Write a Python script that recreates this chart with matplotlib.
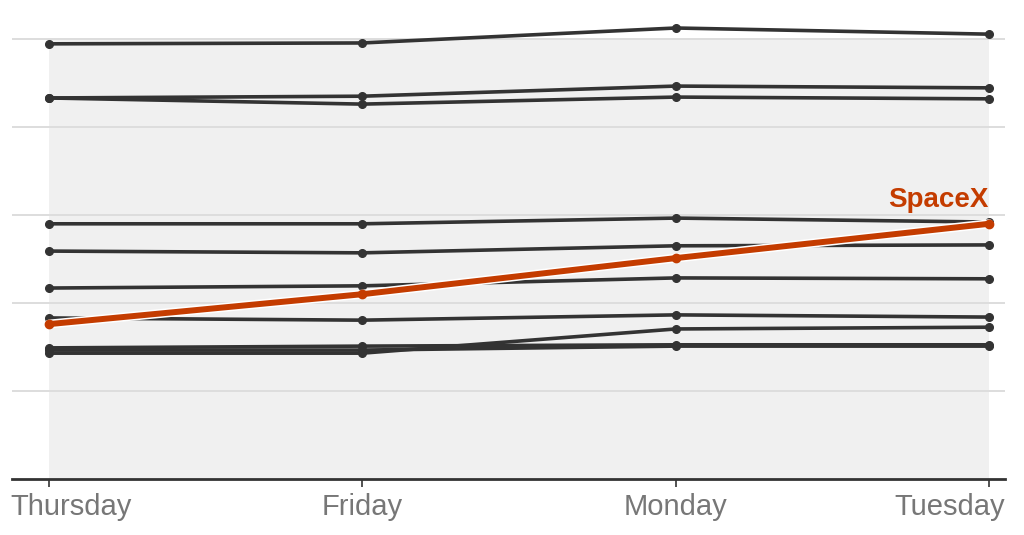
import matplotlib.pyplot as plt
import matplotlib.patheffects as pe
from matplotlib.transforms import ScaledTranslation

plt.rcParams['font.family'] = ['Liberation Sans', 'DejaVu Sans']

days = ["Thursday", "Friday", "Monday", "Tuesday"]

# other companies (grey lines)
others = [
    [98.9, 99.1, 102.5, 101.1],
    [86.6, 87.0, 89.3, 88.9],
    [86.6, 85.2, 86.8, 86.4],
    [58.0, 58.0, 59.3, 58.4],
    [51.8, 51.4, 53.0, 53.2],
    [43.4, 43.9, 45.7, 45.5],
    [36.6, 36.1, 37.3, 36.8],
    [29.8, 30.2, 30.5, 30.5],
    [28.6, 28.6, 34.1, 34.5],
    [29.3, 29.3, 30.2, 30.2],
]
spacex = [35.2, 42.0, 50.2, 58.0]
gridlines = [20, 40, 60, 80, 100]

fig = plt.figure(figsize=(10.24, 5.35), dpi=100)
ax = fig.add_axes([12 / 1024, 56 / 535, 993 / 1024, 459 / 535])

x = list(range(len(days)))

# shaded panel behind the lines
ax.fill_between([0, 3], 0, 100, color='#f0f0f0', zorder=0, linewidth=0)
for g in gridlines:
    ax.axhline(g, color='#dddddd', linewidth=1.4, zorder=1)

for vals in others:
    ax.plot(x, vals, color='#333333', linewidth=2.6, marker='o',
            markersize=5.5, zorder=3, solid_capstyle='round')

# highlighted line: white halo on the line, plain dots on top
ax.plot(x, spacex, color='#c43c00', linewidth=4.3, zorder=5,
        solid_capstyle='round',
        path_effects=[pe.Stroke(linewidth=6.5, foreground='white'), pe.Normal()])
ax.plot(x, spacex, color='#c43c00', linestyle='none', marker='o',
        markersize=6, zorder=6)
ax.text(3, 61.8, "SpaceX", color='#c43c00', fontsize=20, fontweight='bold',
        ha='right', va='baseline', zorder=6)

ax.set_xlim(-37 / 313.3, 3 + 16 / 313.3)
ax.set_ylim(0, 459 / 4.4)

for s in ['top', 'right', 'left']:
    ax.spines[s].set_visible(False)
ax.spines['bottom'].set_color('#333333')
ax.spines['bottom'].set_linewidth(2)
ax.set_yticks([])
ax.set_xticks(x)
ax.set_xticklabels(days, fontsize=21, color='#777777')
ax.tick_params(axis='x', length=6, width=1.2, color='#333333', pad=4)

labels = ax.get_xticklabels()
labels[0].set_ha('left')
labels[0].set_transform(labels[0].get_transform() + ScaledTranslation(-0.39, 0, fig.dpi_scale_trans))
labels[3].set_ha('right')
labels[3].set_transform(labels[3].get_transform() + ScaledTranslation(0.16, 0, fig.dpi_scale_trans))

fig.savefig('out.png', dpi=100)
